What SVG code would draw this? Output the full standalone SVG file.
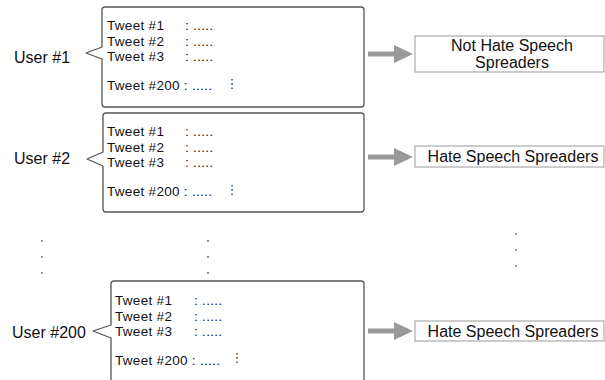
<svg xmlns="http://www.w3.org/2000/svg" width="605" height="380" viewBox="0 0 605 380">
<defs>
<style>
.box{fill:#fff;stroke:#555;stroke-width:1.3;stroke-linejoin:round}
.t{font-family:"Liberation Sans",Arial,sans-serif;font-size:13.5px;letter-spacing:0.3px;fill:#111}
.u{font-family:"Liberation Sans",Arial,sans-serif;font-size:16px;fill:#111}
.lab{font-family:"Liberation Sans",Arial,sans-serif;font-size:16px;fill:#111;text-anchor:middle}
.res{fill:#fff;stroke:#999;stroke-width:1}
.vd{font-family:"DejaVu Sans",sans-serif;font-size:13px;fill:#333;text-anchor:middle}
.dot{fill:#777}
.arr{stroke:#999;stroke-width:5;fill:none}
</style>
<marker id="ah" viewBox="0 0 19 18" markerWidth="19" markerHeight="18" refX="0" refY="9" orient="auto" markerUnits="userSpaceOnUse">
<path d="M0,0 L19,9 L0,18 Z" fill="#999"/>
</marker>
</defs>
<rect width="605" height="380" fill="#fff"/>

<g id="user1">
<path class="box" d="M105,7 H361 Q364,7 364,10 V104 Q364,107 361,107 H105 Q102,107 102,104 V59 L86,53 L102,47 V10 Q102,7 105,7 Z"/>
<text class="u" x="14" y="63">User #1</text>
<text class="t" x="107" y="30">Tweet #1</text><text class="t" x="185" y="30">: .....</text>
<text class="t" x="107" y="45.5">Tweet #2</text><text class="t" x="185" y="45.5">: .....</text>
<text class="t" x="107" y="61">Tweet #3</text><text class="t" x="185" y="61">: .....</text>
<text class="t" x="107" y="90">Tweet #200 : .....</text>
<text class="vd" x="232" y="88">⋮</text>
</g>

<g id="user2">
<path class="box" d="M106,113 H361 Q364,113 364,116 V209 Q364,212 361,212 H106 Q103,212 103,209 V166 L87,159 L103,152 V116 Q103,113 106,113 Z"/>
<text class="u" x="14" y="164">User #2</text>
<text class="t" x="107" y="136">Tweet #1</text><text class="t" x="185" y="136">: .....</text>
<text class="t" x="107" y="151.5">Tweet #2</text><text class="t" x="185" y="151.5">: .....</text>
<text class="t" x="107" y="167">Tweet #3</text><text class="t" x="185" y="167">: .....</text>
<text class="t" x="107" y="196">Tweet #200 : .....</text>
<text class="vd" x="232" y="194">⋮</text>
</g>

<g id="user200">
<path class="box" d="M114,281 H361 Q364,281 364,284 V392 H111 V338 L93,331 L111,325 V284 Q111,281 114,281 Z"/>
<text class="u" x="12" y="338">User #200</text>
<text class="t" x="115" y="305">Tweet #1</text><text class="t" x="194" y="305">: .....</text>
<text class="t" x="115" y="320.5">Tweet #2</text><text class="t" x="194" y="320.5">: .....</text>
<text class="t" x="115" y="336">Tweet #3</text><text class="t" x="194" y="336">: .....</text>
<text class="t" x="115" y="365">Tweet #200 : .....</text>
<text class="vd" x="237" y="362">⋮</text>
</g>

<g id="result1">
<rect class="res" x="415" y="36" width="189" height="36"/>
<text class="lab" x="512" y="51">Not Hate Speech</text>
<text class="lab" x="512" y="68">Spreaders</text>
</g>

<g id="result2">
<rect class="res" x="415" y="146" width="189" height="21"/>
<text class="lab" x="513" y="162">Hate Speech Spreaders</text>
</g>

<g id="result200">
<rect class="res" x="415" y="321" width="189" height="20"/>
<text class="lab" x="513" y="337">Hate Speech Spreaders</text>
</g>

<g id="ellipses">
<circle class="dot" cx="42" cy="241" r="1"/><circle class="dot" cx="42" cy="257" r="1"/><circle class="dot" cx="42" cy="273" r="1"/>
<circle class="dot" cx="208" cy="241" r="1"/><circle class="dot" cx="208" cy="257" r="1"/><circle class="dot" cx="208" cy="273" r="1"/>
<circle class="dot" cx="516" cy="234" r="1"/><circle class="dot" cx="516" cy="250" r="1"/><circle class="dot" cx="516" cy="266" r="1"/>
</g>

<g id="connectors">
<line class="arr" x1="368" y1="54" x2="394" y2="54" marker-end="url(#ah)"/>
<line class="arr" x1="368" y1="157" x2="394" y2="157" marker-end="url(#ah)"/>
<line class="arr" x1="368" y1="331" x2="394" y2="331" marker-end="url(#ah)"/>
</g>
</svg>
